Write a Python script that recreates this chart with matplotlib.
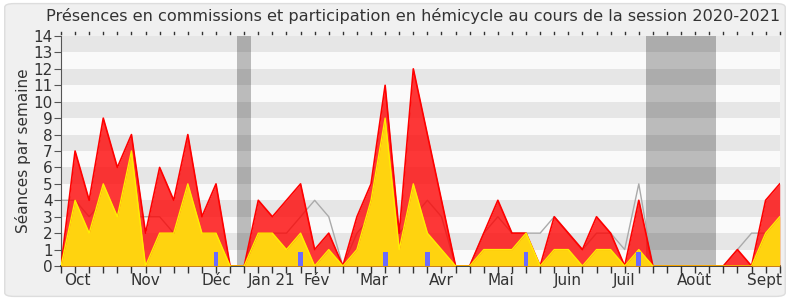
import numpy as np
import matplotlib
matplotlib.use('Agg')
import matplotlib.pyplot as plt
from matplotlib.patches import FancyBboxPatch

# weekly values, session 2020-2021 (52 weeks)
hemicycle = [0, 7, 4, 9, 6, 8, 2, 6, 4, 8, 3, 5, 0, 0,
             4, 3, 4, 5, 1, 2, 0, 3, 5, 11, 2, 12, 8, 4, 0, 0,
             2, 4, 2, 2, 0, 3, 2, 1, 3, 2, 0, 4, 0,
             0, 0, 0, 0, 0, 1, 0, 4, 5]
interventions = [0, 4, 2, 5, 3, 7, 0, 2, 2, 5, 2, 2, 0, 0,
                 2, 2, 1, 2, 0, 1, 0, 1, 4, 9, 1, 5, 2, 1, 0, 0,
                 1, 1, 1, 2, 0, 1, 1, 0, 1, 1, 0, 1, 0,
                 0, 0, 0, 0, 0, 0, 0, 2, 3]
mediane = [4, 4, 3, 4, 3, 3, 3, 3, 2, 3, 2, 2, 0, 0,
           2, 2, 2, 3, 4, 3, 0, 2, 3, 2, 2, 3, 4, 3, 0, 0,
           2, 3, 2, 2, 2, 3, 2, 1, 2, 2, 1, 5, 0,
           0, 0, 0, 0, 0, 1, 2, 2, 2]
commission_weeks = [11, 17, 23, 26, 33, 41]
commission_height = [0.85, 0.85, 0.85, 0.85, 0.85, 0.85]
vacances = [13, 42, 43, 44, 45, 46]
mois = ['Oct', 'Nov', 'Déc', 'Jan 21', 'Fév', 'Mar', 'Avr', 'Mai', 'Juin', 'Juil', 'Août', 'Sept']
mois_pos = [1.17, 6.0, 11.0, 14.93, 18.13, 22.18, 26.96, 31.18, 35.95, 39.94, 44.95, 49.93]

weeks = np.arange(len(hemicycle))

fig = plt.figure(figsize=(7.9, 3.0), dpi=100)
fig.patch.set_facecolor('white')
fig.patches.append(FancyBboxPatch((0.006, 0.012), 0.988, 0.976, boxstyle='round,pad=0,rounding_size=0.012',
                                  transform=fig.transFigure, facecolor='#f0f0f0',
                                  edgecolor='#dddddd', linewidth=1.0, zorder=-10))
ax = fig.add_axes([0.0772, 0.1133, 0.9098, 0.7667])
ax.set_facecolor('#fafafa')

# stripes
for k in range(1, 14, 2):
    ax.axhspan(k, k + 1, color='#e6e6e6', lw=0, zorder=0)
# holidays
for w in vacances:
    ax.axvspan(w - 0.5, w + 0.5, color='black', alpha=0.25, lw=0, zorder=1)

ax.plot(weeks, mediane, color='#aaaaaa', lw=1.0, zorder=2)
ax.fill_between(weeks, hemicycle, color='#ff0000', alpha=0.78, lw=0, zorder=3)
ax.plot(weeks, hemicycle, color='#ff0000', lw=1.2, zorder=3)
ax.fill_between(weeks, interventions, color='#ffd30f', lw=0, zorder=4)
ax.plot(weeks, interventions, color='#ffee00', lw=1.0, zorder=4)
ax.bar(commission_weeks, commission_height, width=0.34, color='#6b6bff', lw=0, zorder=5)

ax.set_xlim(0, 51)
ax.set_ylim(0, 14)
ax.set_yticks(range(15))
ax.set_xticks(weeks)
ax.set_xticklabels([])
ax.tick_params(axis='x', direction='out', length=5, color='#333333', width=1, top=False)
ax.tick_params(axis='y', length=5, color='#555555', labelsize=11, labelcolor='#333333', pad=1)
for s in ['top', 'right']:
    ax.spines[s].set_visible(False)
ax.spines['left'].set_color('#555555')
ax.spines['bottom'].set_color('#222222')
ax.spines['bottom'].set_linewidth(1.2)

# tiny top ticks
for w in weeks:
    ax.plot([w, w], [14.12, 14.22], color='#333333', lw=1, clip_on=False, zorder=6)

for lab, p in zip(mois, mois_pos):
    ax.text(p, -0.45, lab, ha='center', va='top', fontsize=11, color='#333333')

ax.set_ylabel('Séances par semaine', fontsize=11, color='#333333', labelpad=2)
fig.text(0.523, 0.947, 'Présences en commissions et participation en hémicycle au cours de la session 2020-2021',
         ha='center', va='center', fontsize=11.6, color='#333333')

fig.savefig('out.png', dpi=100, facecolor=fig.get_facecolor())
